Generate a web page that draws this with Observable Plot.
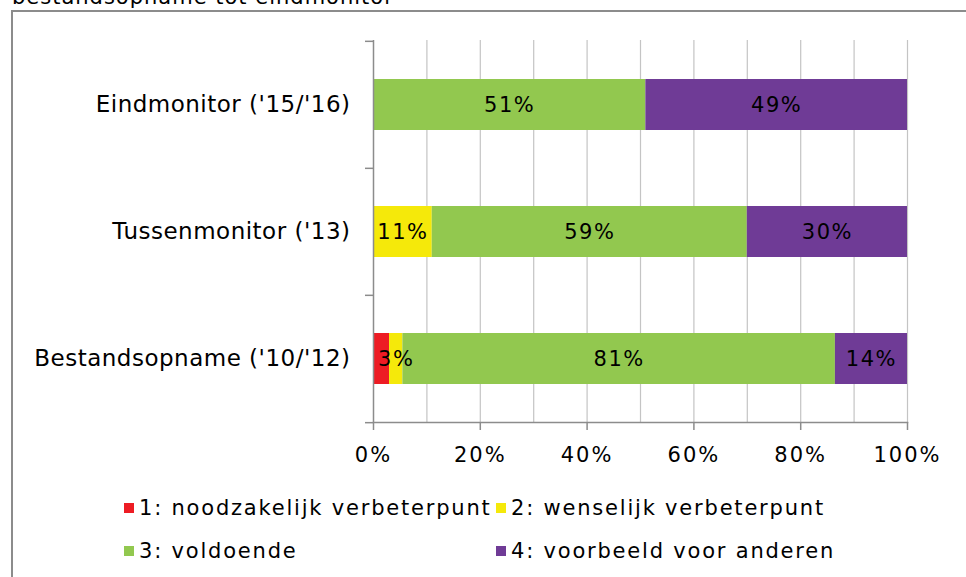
<!DOCTYPE html>
<html>
<head>
<meta charset="utf-8">
<script src="https://cdn.jsdelivr.net/npm/d3@7"></script>
<script src="https://cdn.jsdelivr.net/npm/@observablehq/plot@0.6"></script>
<style>
  html, body { margin: 0; padding: 0; background: #fff; width: 966px; height: 577px; overflow: hidden; }
  body { position: relative; font-family: "DejaVu Sans", Verdana, sans-serif; color: #000; }
  #title { position: absolute; left: 12px; top: -13px; font-size: 21px; line-height: 21px; letter-spacing: 1px; white-space: nowrap; }
  #border { position: absolute; left: 11px; top: 10px; width: 1000px; height: 600px; border-left: 2px solid #8c8c8c; border-top: 2px solid #8c8c8c; }
  #chart { position: absolute; left: 0; top: 0; }
  #chart g[aria-label="y-axis tick label"] { letter-spacing: 0.5px; }
  #chart g[aria-label="x-axis tick label"] { letter-spacing: 2px; }
  .lg { position: absolute; display: flex; align-items: center; font-size: 21px; letter-spacing: 1.8px; white-space: nowrap; line-height: 24px; }
  .sw { width: 10px; height: 10px; margin-right: 5px; }
</style>
</head>
<body>
<div id="title">bestandsopname tot eindmonitor</div>
<div id="border"></div>
<div id="chart"></div>
<div id="legend"></div>
<script>
const categories = ["Eindmonitor ('15/'16)", "Tussenmonitor ('13)", "Bestandsopname ('10/'12)"];
const levels = ["1: noodzakelijk verbeterpunt", "2: wenselijk verbeterpunt", "3: voldoende", "4: voorbeeld voor anderen"];
const colors = ["#ed1c24", "#f5e90a", "#92c84f", "#6f3b96"];
const eindmonitor = [0, 0, 51, 49];
const tussenmonitor = [0, 11, 59, 30];
const bestandsopname = [3, 2.5, 81, 13.5];
const xTicks = [0, 20, 40, 60, 80, 100];
const gridTicks = [10, 20, 30, 40, 50, 60, 70, 80, 90, 100];
// segment whose label is not shown in the original
const hidden = [["Bestandsopname ('10/'12)", "1: noodzakelijk verbeterpunt"]];

const seriesByCat = [eindmonitor, tussenmonitor, bestandsopname];
const data = [];
categories.forEach((cat, i) => {
  levels.forEach((lev, j) => {
    const v = seriesByCat[i][j];
    if (v > 0) data.push({cat, level: lev, value: v,
      show: !hidden.some(h => h[0] === cat && h[1] === lev)});
  });
});

const W = 966, H = 480, mT = 40, mB = 58;
const step = (H - mT - mB) / categories.length;

const chart = Plot.plot({
  width: W,
  height: H,
  marginLeft: 373,
  marginRight: 59,
  marginTop: mT,
  marginBottom: mB,
  style: { fontFamily: "DejaVu Sans, Verdana, sans-serif", fontSize: "21px", color: "#000", background: "transparent", letterSpacing: "1.5px", overflow: "visible" },
  x: { domain: [0, 100], axis: null, label: null },
  y: { domain: categories, axis: null, label: null, paddingInner: 0.6, paddingOuter: 0.3 },
  color: { domain: levels, range: colors },
  marks: [
    Plot.gridX(gridTicks, { stroke: "#c4c4c4", strokeOpacity: 1, strokeWidth: 1.2 }),
    Plot.barX(data, Plot.stackX({ x: "value", y: "cat", fill: "level", order: null })),
    Plot.text(data, Plot.stackX({ x: "value", y: "cat", z: "level", order: null,
      text: d => d.show ? Math.round(d.value) + "%" : "", fill: "#000", fontSize: 21 })),
    Plot.ruleX([0], { stroke: "#8c8c8c", strokeWidth: 1.5 }),
    Plot.frame({ anchor: "bottom", stroke: "#8c8c8c", strokeWidth: 1.5 }),
    Plot.ruleY(categories, { y: d => d, dy: -step / 2, x1: -1.5, x2: 0, stroke: "#8c8c8c", strokeWidth: 1.5 }),
    Plot.ruleY([categories[categories.length - 1]], { y: d => d, dy: step / 2, x1: -1.5, x2: 0, stroke: "#8c8c8c", strokeWidth: 1.5 }),
    Plot.axisY({ tickSize: 0, tickPadding: 23, fontSize: 23, fill: "#000", label: null }),
    Plot.axisX(xTicks, { tickSize: 8, tickPadding: 17, stroke: "#8c8c8c", strokeWidth: 1.5, fill: "#000", fontSize: 21, label: null, tickFormat: d => d + "%" })
  ]
});
document.getElementById("chart").appendChild(chart);

// legend
const legendPos = [[124, 508], [496, 508], [124, 551], [496, 551]];
const lg = document.getElementById("legend");
levels.forEach((lev, i) => {
  const item = document.createElement("div");
  item.className = "lg";
  item.style.left = legendPos[i][0] + "px";
  item.style.top = (legendPos[i][1] - 12) + "px";
  const sw = document.createElement("span");
  sw.className = "sw";
  sw.style.background = colors[i];
  const t = document.createElement("span");
  t.textContent = lev;
  item.appendChild(sw);
  item.appendChild(t);
  lg.appendChild(item);
});
</script>
</body>
</html>
